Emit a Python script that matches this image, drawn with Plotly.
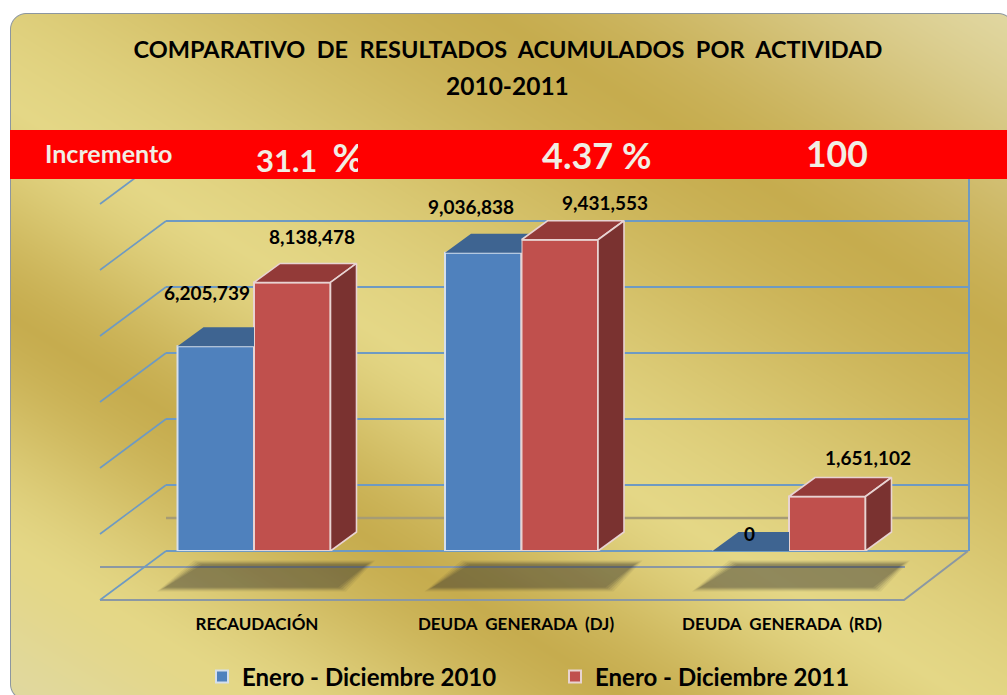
import base64, struct, zlib
import numpy as np
import plotly.graph_objects as go

# ---------- data ----------
categories = ["RECAUDACIÓN", "DEUDA\u00a0\u00a0GENERADA\u00a0\u00a0(DJ)", "DEUDA\u00a0\u00a0GENERADA\u00a0\u00a0(RD)"]
series_2010 = [6205739, 9036838, 0]
series_2011 = [8138478, 9431553, 1651102]
name_2010 = "Enero\u00a0-\u00a0Diciembre\u00a02010"
name_2011 = "Enero\u00a0-\u00a0Diciembre\u00a02011"
title_line1 = "COMPARATIVO\u00a0 DE\u00a0 RESULTADOS\u00a0 ACUMULADOS\u00a0 POR\u00a0 ACTIVIDAD"
title_line2 = "2010-2011"
increment_labels = ["31.1\u00a0 <span style='font-size:38px'>%</span>", "4.37 %", "100"]

# ---------- geometry ----------
W, H = 1007, 695
L, R, T, B = 166, 968, 155, 551          # back wall rectangle, pixels
Y_MAX = 12_000_000
VPP = 2_000_000 / 66                      # value per pixel
GROUP0, GROUP_STEP = 254, 267.5           # pixel centre of first group, spacing
BAR_W = 76.5 / GROUP_STEP
DX, DY = 26 / GROUP_STEP, 19 * VPP        # bar depth


def xu(px):
    return (px - GROUP0) / GROUP_STEP


def yu(py):
    return (B - py) * VPP


def px_paper(px):
    return px / W


def py_paper(py):
    return 1 - py / H


# ---------- gold background picture ----------
def background_uri():
    yy, xx = np.mgrid[0:H, 0:W].astype(float) + 0.5
    p = yy - 0.62 * xx
    stops = [-640, -290, 100, 310, 540, 700]
    cols = np.array([[226, 217, 165], [198, 172, 78], [228, 215, 134],
                     [198, 172, 78], [228, 215, 134], [224, 216, 160]], float)
    idx = np.interp(p, stops, np.arange(len(stops)))
    base = np.floor(idx).clip(0, len(stops) - 2).astype(int)
    f = idx - base
    f = 0.5 * f + 0.5 * f * f * (3 - 2 * f)
    rgb = cols[base] * (1 - f[..., None]) + cols[base + 1] * f[..., None]
    x0, y0, x1, y1, r = 10.5, 13.5, 1014.0, 700.0, 16.0
    cx = np.clip(xx, x0 + r, x1 - r)
    cy = np.clip(yy, y0 + r, y1 - r)
    d = np.hypot(xx - cx, yy - cy) - r
    inside = np.clip(0.5 - d, 0, 1)[..., None]
    ring = np.clip(1.0 - np.abs(d), 0, 1)[..., None]
    out = rgb * inside + 255.0 * (1 - inside)
    out = out * (1 - ring) + np.array([140, 150, 160.0]) * ring
    img = out.round().astype(np.uint8)
    raw = b"".join(b"\x00" + img[i].tobytes() for i in range(H))

    def chunk(tag, data):
        c = struct.pack(">I", len(data)) + tag + data
        return c + struct.pack(">I", zlib.crc32(tag + data))

    png = (b"\x89PNG\r\n\x1a\n" + chunk(b"IHDR", struct.pack(">IIBBBBB", W, H, 8, 2, 0, 0, 0))
           + chunk(b"IDAT", zlib.compress(raw, 9)) + chunk(b"IEND", b""))
    return "data:image/png;base64," + base64.b64encode(png).decode()


FONT = "Lato, Carlito, Calibri, sans-serif"
BLUE, RED = "#4F81BD", "#C0504D"
BLUE_TOP, RED_TOP, RED_SIDE = "#3E6491", "#933A38", "#7A3230"
EDGE_B, EDGE_R = "#D5DFEC", "#E8D3D2"
GRID = "#6E9AC2"
FLOOR = "#8B98A3"

fig = go.Figure()

# front faces, on the back-wall subplot
xs = list(range(len(categories)))
fig.add_trace(go.Bar(x=xs, y=series_2010, name=name_2010, width=BAR_W, offset=-BAR_W,
                     marker=dict(color=BLUE, line=dict(color=EDGE_B, width=2)), cliponaxis=False))
fig.add_trace(go.Bar(x=xs, y=series_2011, name=name_2011, width=BAR_W, offset=0,
                     marker=dict(color=RED, line=dict(color=EDGE_R, width=2)), cliponaxis=False))


def face(px, py, color, edge):
    fig.add_trace(go.Scatter(x=px, y=py, mode="lines", fill="toself", fillcolor=color,
                             line=dict(color=edge, width=1.6),
                             showlegend=False, hoverinfo="skip"))


for i, (b, r) in enumerate(zip(series_2010, series_2011)):
    x0, xm, x1 = i - BAR_W, i, i + BAR_W
    h = b + DY
    xr = xm + (h - r) / DY * DX if h > r else xm
    # blue top, cut where the red bar hides it
    fig.add_trace(go.Scatter(x=[x0, x0 + DX, xr, xm, xm, x0], y=[b, h, h, min(max(r, b), h), b, b],
                             mode="lines", fill="toself", fillcolor=BLUE_TOP, line=dict(width=0),
                             showlegend=False, hoverinfo="skip"))
    # red top and side
    face([xm, xm + DX, x1 + DX, x1, xm], [r, r + DY, r + DY, r, r], RED_TOP, EDGE_R)
    face([x1, x1 + DX, x1 + DX, x1, x1], [0, DY, r + DY, r, 0], RED_SIDE, EDGE_R)

# floor and side wall, on a full-page subplot sharing the same units
fl = dict(xaxis="x2", yaxis="y2", showlegend=False, hoverinfo="skip")
fig.add_trace(go.Scatter(x=[xu(100), xu(904), xu(968)], y=[yu(600), yu(600), yu(551)], mode="lines",
                         line=dict(color=FLOOR, width=2), **fl))
fig.add_trace(go.Scatter(x=[xu(100), xu(905)], y=[yu(567), yu(567)], mode="lines",
                         line=dict(color=FLOOR, width=2), **fl))
for v in range(0, 12_000_001, 2_000_000):
    fig.add_trace(go.Scatter(x=[xu(100), xu(166)], y=[v + yu(600), v], mode="lines",
                             line=dict(color=GRID, width=1.6), **fl))
for i in range(len(categories)):
    for grow, alpha in [(5, 0.07), (3, 0.09), (1, 0.12), (-1, 0.14), (-3, 0.12)]:
        c = GROUP0 + GROUP_STEP * i
        sx = [c - 92 - grow, c - 55 - grow, c + 116 + grow, c + 87 + grow, c - 92 - grow]
        sy = [589 + grow * 0.5, 563 - grow * 0.5, 563 - grow * 0.5, 589 + grow * 0.5, 589 + grow * 0.5]
        fig.add_trace(go.Scatter(x=[xu(a) for a in sx], y=[yu(b) for b in sy], mode="lines", fill="toself",
                                 fillcolor=f"rgba(45,45,40,{alpha})", line=dict(width=0), **fl))

# data labels: pixel shift of each label from the top of its bar
label_offsets_2010 = [(-9, 54), (-12.5, 46), (-1, 18)]
label_offsets_2011 = [(19.5, 46), (45, 37), (41, 39)]
annotations = []
for i, (b, r) in enumerate(zip(series_2010, series_2011)):
    for val, xc, (sx, sy) in ((b, i - BAR_W / 2, label_offsets_2010[i]), (r, i + BAR_W / 2, label_offsets_2011[i])):
        annotations.append(dict(x=xc, y=val, xref="x", yref="y", text=f"<b>{val:,}</b>", showarrow=False,
                                xanchor="center", yanchor="middle", xshift=sx, yshift=sy,
                                font=dict(family=FONT, size=19, color="#000000")))


def note(text, px, py, size, color="#000000"):
    return dict(x=px_paper(px), y=py_paper(py), xref="paper", yref="paper", text=f"<b>{text}</b>",
                xanchor="center", yanchor="middle", showarrow=False,
                font=dict(family=FONT, size=size, color=color))


WHITE = "#F1EEE4"
annotations += [
    note(title_line2, 507, 85, 24.5),
    note("Incremento", 108, 153, 25, WHITE),
    note(increment_labels[0], 310, 157, 31, WHITE),
    dict(x=px_paper(367), y=py_paper(158), xref="paper", yref="paper", text=" ", showarrow=False,
         xanchor="center", yanchor="middle", bgcolor="#FF0000", width=18, height=40, borderpad=0, borderwidth=0),
    note(increment_labels[1], 596, 155, 36, WHITE),
    note(increment_labels[2], 836.5, 153, 35.5, WHITE),
]

label_x = [xu(257), xu(516), xu(782)]

fig.update_layout(
    width=W, height=H,
    margin=dict(l=0, r=0, t=0, b=0, pad=0, autoexpand=False),
    paper_bgcolor="#FFFFFF", plot_bgcolor="rgba(0,0,0,0)",
    barmode="overlay",
    title=dict(text=f"<b>{title_line1}</b>", xref="container", yref="container", x=508 / W, y=1 - 50 / H,
               xanchor="center", yanchor="middle", font=dict(family=FONT, size=23.5, color="#000000")),
    xaxis=dict(domain=[L / W, R / W], range=[xu(L), xu(R)], tickmode="array", tickvals=label_x,
               ticktext=[f"<b>{c}</b>" for c in categories],
               ticks="", ticklabelstandoff=61, showgrid=False, zeroline=False, showline=False, automargin=False,
               tickfont=dict(family=FONT, size=17, color="#000000")),
    yaxis=dict(domain=[1 - B / H, 1 - T / H], range=[0, Y_MAX], dtick=2_000_000, side="right",
               showticklabels=False, ticks="", showgrid=True, gridcolor=GRID, gridwidth=1.6,
               zeroline=True, zerolinecolor=GRID, zerolinewidth=1.6,
               showline=True, linecolor=GRID, linewidth=1.6),
    xaxis2=dict(domain=[0, 1], range=[xu(0), xu(W)], anchor="y2", visible=False),
    yaxis2=dict(domain=[0, 1], range=[yu(H), yu(0)], anchor="x2", visible=False),
    legend=dict(orientation="h", x=px_paper(202), y=py_paper(677), xanchor="left", yanchor="middle",
                xref="paper", yref="paper", bgcolor="rgba(0,0,0,0)", entrywidth=308, entrywidthmode="pixels",
                font=dict(family=FONT, size=24, color="#000000", weight="bold"), itemclick=False),
    images=[dict(source=background_uri(), xref="paper", yref="paper", x=0, y=1,
                 sizex=1, sizey=1, xanchor="left", yanchor="top", sizing="stretch", layer="below")],
    shapes=[
        dict(type="rect", xref="paper", yref="paper", x0=px_paper(10), x1=px_paper(W + 1), y0=py_paper(179), y1=py_paper(130),
             fillcolor="#FF0000", line=dict(width=0), layer="above"),
        dict(type="line", xref="paper", yref="paper", x0=L / W, x1=R / W, y0=py_paper(518), y1=py_paper(518),
             line=dict(color="#A69C74", width=2.4), layer="below"),
    ],
    annotations=annotations,
    showlegend=True,
    hovermode=False,
)

fig.write_html("out.html", config=dict(displayModeBar=False),
               post_script="document.body.style.margin='0';document.documentElement.style.overflow='hidden';")
